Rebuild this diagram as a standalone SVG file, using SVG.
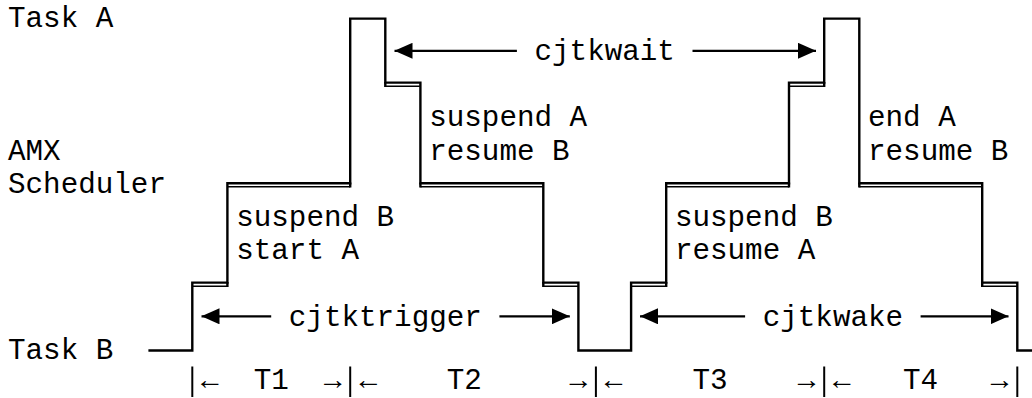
<svg xmlns="http://www.w3.org/2000/svg" width="1032" height="398" viewBox="0 0 1032 398">
<style>
.t{font-family:"Liberation Mono","Courier New",monospace;font-size:29.25px;fill:#000}
.w{fill:none;stroke:#000;stroke-width:2.4;stroke-linejoin:miter;stroke-linecap:butt}
.d{fill:none;stroke:#000;stroke-width:1.5}
.a{stroke:#000;stroke-width:2.2;fill:none}
.b{stroke:#000;stroke-width:2}
</style>
<defs>
<marker id="ah" viewBox="0 0 18 16" refX="18" refY="8" markerWidth="18" markerHeight="16" markerUnits="userSpaceOnUse" orient="auto-start-reverse">
<path d="M0,0 L18,8 L0,16 Z" fill="#000"/>
</marker>
</defs>
<rect width="1032" height="398" fill="#fff"/>
<g id="labels">
<text class="t" x="8" y="26.7">Task A</text>
<text class="t" x="8" y="159.5">AMX</text>
<text class="t" x="8" y="192.7">Scheduler</text>
<text class="t" x="8" y="358.7">Task B</text>
</g>
<g id="waveform">
<path class="w" d="M148.4,350.5 H192.3 V282.6 H227.4 V183.2 H350.2 V18.6 H385.3 V82.6 H420.4 V183.2 H543.3 V282.6 H578.4 V350.5 H631.1 V282.6 H666.2 V183.2 H789 V82.6 H824.2 V18.6 H859.3 V183.2 H982.2 V282.6 H1017.3 V350.5 H1034"/>
<g id="double-lines">
<line class="d" x1="385.3" y1="86.3" x2="420.4" y2="86.3"/>
<line class="d" x1="789" y1="86.3" x2="824.2" y2="86.3"/>
<line class="d" x1="227.4" y1="186.7" x2="350.2" y2="186.7"/>
<line class="d" x1="420.4" y1="186.7" x2="543.3" y2="186.7"/>
<line class="d" x1="666.2" y1="186.7" x2="789" y2="186.7"/>
<line class="d" x1="859.3" y1="186.7" x2="982.2" y2="186.7"/>
<line class="d" x1="192.3" y1="286.2" x2="227.4" y2="286.2"/>
<line class="d" x1="543.3" y1="286.2" x2="578.4" y2="286.2"/>
<line class="d" x1="631.1" y1="286.2" x2="666.2" y2="286.2"/>
<line class="d" x1="982.2" y1="286.2" x2="1017.3" y2="286.2"/>
<path class="w" d="M385.3,82 V87 M824.2,82 V87 M350.2,182.6 V187.4 M420.4,182.6 V187.4 M789,182.6 V187.4 M859.3,182.6 V187.4 M227.4,282 V287 M543.3,282 V287 M666.2,282 V287 M982.2,282 V287"/>
</g>
</g>
<g id="phases">
<g id="cjtkwait">
<line class="a" x1="394.5" y1="50.8" x2="516.9" y2="50.8" marker-start="url(#ah)"/>
<text class="t" x="534.5" y="59.9">cjtkwait</text>
<line class="a" x1="692.5" y1="50.8" x2="816" y2="50.8" marker-end="url(#ah)"/>
</g>
<g id="step1"><text class="t" x="236.2" y="225.9">suspend B</text><text class="t" x="236.2" y="259.1">start A</text></g>
<g id="step2"><text class="t" x="429.2" y="126.3">suspend A</text><text class="t" x="429.2" y="159.5">resume B</text></g>
<g id="step3"><text class="t" x="674.9" y="225.9">suspend B</text><text class="t" x="674.9" y="259.1">resume A</text></g>
<g id="step4"><text class="t" x="868" y="126.3">end A</text><text class="t" x="868" y="159.5">resume B</text></g>
<g id="cjtktrigger">
<line class="a" x1="201.5" y1="316.3" x2="271.2" y2="316.3" marker-start="url(#ah)"/>
<text class="t" x="288.8" y="325.5">cjtktrigger</text>
<line class="a" x1="499.4" y1="316.3" x2="569.8" y2="316.3" marker-end="url(#ah)"/>
</g>
<g id="cjtkwake">
<line class="a" x1="640" y1="316.3" x2="745.1" y2="316.3" marker-start="url(#ah)"/>
<text class="t" x="762.7" y="325.5">cjtkwake</text>
<line class="a" x1="920.6" y1="316.3" x2="1008.5" y2="316.3" marker-end="url(#ah)"/>
</g>
</g>
<g id="intervals">
<line class="b" x1="192.3" y1="366.5" x2="192.3" y2="397"/>
<line class="b" x1="350.2" y1="366.5" x2="350.2" y2="397"/>
<line class="b" x1="595.9" y1="366.5" x2="595.9" y2="397"/>
<line class="b" x1="824.2" y1="366.5" x2="824.2" y2="397"/>
<line class="b" x1="1017.3" y1="366.5" x2="1017.3" y2="397"/>
<text class="t" x="201" y="389">←</text>
<text class="t" x="253.7" y="389">T1</text>
<text class="t" x="323.9" y="389">→</text>
<text class="t" x="359.5" y="389">←</text>
<text class="t" x="446.8" y="389">T2</text>
<text class="t" x="569.6" y="389">→</text>
<text class="t" x="604.7" y="389">←</text>
<text class="t" x="692.5" y="389">T3</text>
<text class="t" x="797.8" y="389">→</text>
<text class="t" x="832.9" y="389">←</text>
<text class="t" x="903" y="389">T4</text>
<text class="t" x="990.8" y="389">→</text>
</g>
</svg>
